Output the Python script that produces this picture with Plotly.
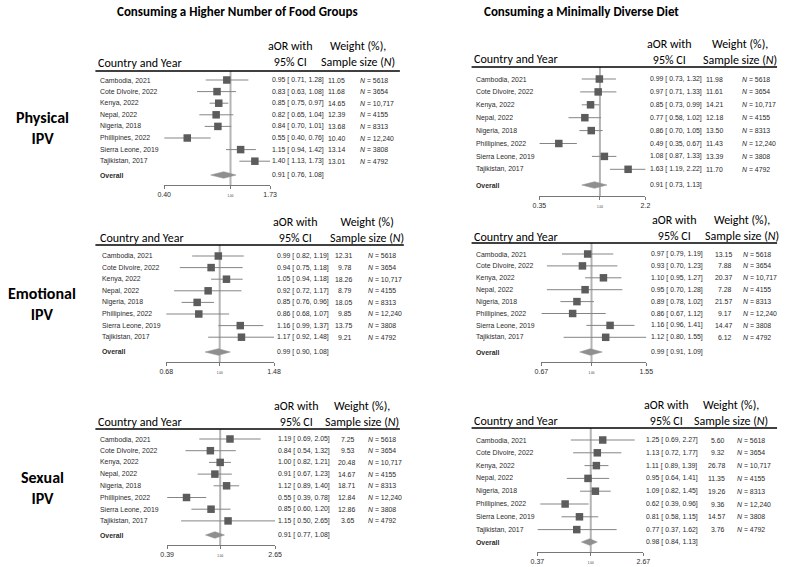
import math
import plotly.graph_objects as go

W, H = 787, 567

# ---------------- data ----------------
countries = ["Cambodia, 2021", "Cote DIvoire, 2022", "Kenya, 2022", "Nepal, 2022",
             "Nigeria, 2018", "Phillipines, 2022", "Sierra Leone, 2019", "Tajikistan, 2017"]
sample_n = [5618, 3654, 10717, 4155, 8313, 12240, 3808, 4792]

column_titles = ["Consuming a Higher Number of Food Groups", "Consuming a Minimally Diverse Diet"]
ipv_types = ["Physical<br>IPV", "Emotional<br>IPV", "Sexual<br>IPV"]
weight_headers = ["Weight (%),", "Weight (%),", "Weight (%)", "Weight (%),", "Weight (%),", "Weight (%),"]

# Physical IPV - food groups
phys_food_est = [0.95, 0.83, 0.85, 0.82, 0.84, 0.55, 1.15, 1.40]
phys_food_lo = [0.71, 0.63, 0.75, 0.65, 0.70, 0.40, 0.94, 1.13]
phys_food_hi = [1.28, 1.08, 0.97, 1.04, 1.01, 0.76, 1.42, 1.73]
phys_food_w = [11.05, 11.68, 14.65, 12.39, 13.68, 10.40, 13.14, 13.01]
phys_food_overall = [0.91, 0.76, 1.08]
phys_food_ticks = [0.40, 1.00, 1.73]
phys_food_ticklabels = ["0.40", "1.00", "1.73"]

# Physical IPV - minimally diverse diet
phys_mdd_est = [0.99, 0.97, 0.85, 0.77, 0.86, 0.49, 1.08, 1.63]
phys_mdd_lo = [0.73, 0.71, 0.73, 0.58, 0.70, 0.35, 0.87, 1.19]
phys_mdd_hi = [1.32, 1.33, 0.99, 1.02, 1.05, 0.67, 1.33, 2.22]
phys_mdd_w = [11.98, 11.61, 14.21, 12.18, 13.50, 11.43, 13.39, 11.70]
phys_mdd_overall = [0.91, 0.73, 1.13]
phys_mdd_ticks = [0.35, 1.00, 2.2]
phys_mdd_ticklabels = ["0.35", "1.00", "2.2"]

# Emotional IPV - food groups
emo_food_est = [0.99, 0.94, 1.05, 0.92, 0.85, 0.86, 1.16, 1.17]
emo_food_lo = [0.82, 0.75, 0.94, 0.72, 0.76, 0.68, 0.99, 0.92]
emo_food_hi = [1.19, 1.18, 1.18, 1.17, 0.96, 1.07, 1.37, 1.48]
emo_food_w = [12.31, 9.78, 18.26, 8.79, 18.05, 9.85, 13.75, 9.21]
emo_food_overall = [0.99, 0.90, 1.08]
emo_food_ticks = [0.68, 1.00, 1.48]
emo_food_ticklabels = ["0.68", "1.00", "1.48"]

# Emotional IPV - minimally diverse diet
emo_mdd_est = [0.97, 0.93, 1.10, 0.95, 0.89, 0.86, 1.16, 1.12]
emo_mdd_lo = [0.79, 0.70, 0.95, 0.70, 0.78, 0.67, 0.96, 0.80]
emo_mdd_hi = [1.19, 1.23, 1.27, 1.28, 1.02, 1.12, 1.41, 1.55]
emo_mdd_w = [13.15, 7.88, 20.37, 7.28, 21.57, 9.17, 14.47, 6.12]
emo_mdd_overall = [0.99, 0.91, 1.09]
emo_mdd_ticks = [0.67, 1.00, 1.55]
emo_mdd_ticklabels = ["0.67", "1.00", "1.55"]

# Sexual IPV - food groups
sex_food_est = [1.19, 0.84, 1.00, 0.91, 1.12, 0.55, 0.85, 1.15]
sex_food_lo = [0.69, 0.54, 0.82, 0.67, 0.89, 0.39, 0.60, 0.50]
sex_food_hi = [2.05, 1.32, 1.21, 1.23, 1.40, 0.78, 1.20, 2.65]
sex_food_w = [7.25, 9.53, 20.48, 14.67, 18.71, 12.84, 12.86, 3.65]
sex_food_overall = [0.91, 0.77, 1.08]
sex_food_ticks = [0.39, 1.00, 2.65]
sex_food_ticklabels = ["0.39", "1.00", "2.65"]

# Sexual IPV - minimally diverse diet
sex_mdd_est = [1.25, 1.13, 1.11, 0.95, 1.09, 0.62, 0.81, 0.77]
sex_mdd_lo = [0.69, 0.72, 0.89, 0.64, 0.82, 0.39, 0.58, 0.37]
sex_mdd_hi = [2.27, 1.77, 1.39, 1.41, 1.45, 0.96, 1.15, 1.62]
sex_mdd_w = [5.60, 9.32, 26.78, 11.35, 19.26, 9.36, 14.57, 3.76]
sex_mdd_overall = [0.98, 0.84, 1.13]
sex_mdd_ticks = [0.37, 1.00, 2.67]
sex_mdd_ticklabels = ["0.37", "1.00", "2.67"]

panel_data = [
    (phys_food_est, phys_food_lo, phys_food_hi, phys_food_w, phys_food_overall, phys_food_ticks, phys_food_ticklabels),
    (phys_mdd_est, phys_mdd_lo, phys_mdd_hi, phys_mdd_w, phys_mdd_overall, phys_mdd_ticks, phys_mdd_ticklabels),
    (emo_food_est, emo_food_lo, emo_food_hi, emo_food_w, emo_food_overall, emo_food_ticks, emo_food_ticklabels),
    (emo_mdd_est, emo_mdd_lo, emo_mdd_hi, emo_mdd_w, emo_mdd_overall, emo_mdd_ticks, emo_mdd_ticklabels),
    (sex_food_est, sex_food_lo, sex_food_hi, sex_food_w, sex_food_overall, sex_food_ticks, sex_food_ticklabels),
    (sex_mdd_est, sex_mdd_lo, sex_mdd_hi, sex_mdd_w, sex_mdd_overall, sex_mdd_ticks, sex_mdd_ticklabels),
]

# ---------------- layout (pixel geometry per panel) ----------------
panel_geom = [
    dict(line=71, cam=80, step=11.6, overall=175, axis=185, h1=47, h2=62, label=93, xlo=160, xhi=268,
         aor=268, wr=346, n=357, aor_head=289, w_head=357, hl0=90, hl1=400),
    dict(line=67, cam=79, step=12.9, overall=185, axis=196, h1=45, h2=58, label=475, xlo=542, xhi=650,
         aor=653, wr=731, n=746, aor_head=675, w_head=746, hl0=473, hl1=784),
    dict(line=245, cam=256, step=11.6, overall=352, axis=362, h1=223, h2=237, label=95, xlo=162, xhi=272,
         aor=273, wr=353, n=365, aor_head=294, w_head=367, hl0=90, hl1=404),
    dict(line=243, cam=254, step=11.9, overall=352, axis=362, h1=221, h2=236, label=475, xlo=544, xhi=651,
         aor=654, wr=740, n=747, aor_head=680, w_head=748, hl0=473, hl1=784),
    dict(line=429, cam=439, step=11.7, overall=535, axis=545, h1=407, h2=421, label=93, xlo=163, xhi=273,
         aor=274, wr=356, n=365, aor_head=295, w_head=361, hl0=90, hl1=400),
    dict(line=428, cam=440, step=12.8, overall=542, axis=552, h1=405, h2=420, label=475, xlo=540, xhi=648,
         aor=649, wr=733, n=741, aor_head=671, w_head=737, hl0=473, hl1=784),
]
title_pos = [(235, 11), (585, 11)]
ipv_pos = [(36, 128), (36, 304), (36, 488)]

BODY = "Liberation Sans, Arial, sans-serif"
HEAD = "Carlito, Lato, sans-serif"
TXT = "#2b2b2b"


def fmt_n(n):
    return f"{n:,}" if n >= 10000 else str(n)


fig = go.Figure()
annotations = []
shapes = []

for k, (data, g, whead) in enumerate(zip(panel_data, panel_geom, weight_headers), start=1):
    est, lo, hi, wts, overall, ticks, ticklabels = data
    sfx = "" if k == 1 else str(k)
    xa, ya = f"x{sfx}", f"y{sfx}"
    xname, yname = f"xaxis{sfx}", f"yaxis{sfx}"
    s = g["step"]

    def yv(px, g=g, s=s):
        return (g["cam"] - px) / s

    rows_y = [-i for i in range(len(countries))]
    ov_y = yv(g["overall"])

    xs, ys = [], []
    for l, h, y in zip(lo, hi, rows_y):
        xs += [l, h, None]
        ys += [y, y, None]
    fig.add_trace(go.Scatter(x=xs, y=ys, mode="lines", line=dict(color="#858585", width=1),
                             xaxis=xa, yaxis=ya, showlegend=False, hoverinfo="skip"))
    fig.add_trace(go.Scatter(x=est, y=rows_y, mode="markers",
                             marker=dict(symbol="square", size=7.5, color="#5c5c5c", line=dict(width=0)),
                             xaxis=xa, yaxis=ya, showlegend=False, cliponaxis=False))
    oe, ol, oh = overall
    dh = 3.3 / s
    fig.add_trace(go.Scatter(x=[ol, oe, oh, oe, ol], y=[ov_y, ov_y + dh, ov_y, ov_y - dh, ov_y],
                             mode="lines", fill="toself", fillcolor="#8f8f8f",
                             line=dict(color="#8f8f8f", width=0.5),
                             xaxis=xa, yaxis=ya, showlegend=False, hoverinfo="skip"))

    ticktext = [t if abs(v - 1.0) > 1e-9 else f"<span style='font-size:3px'>{t}</span>"
                for v, t in zip(ticks, ticklabels)]
    eps = 0.0003
    fig.layout[xname] = dict(type="log", domain=[g["xlo"] / W, g["xhi"] / W],
                             range=[math.log10(ticks[0]) - eps, math.log10(ticks[-1]) + eps],
                             anchor=ya, tickmode="array", tickvals=ticks, ticktext=ticktext,
                             ticks="outside", ticklen=3, tickcolor="#777", tickwidth=1,
                             showline=True, linecolor="#777", linewidth=1,
                             showgrid=False, zeroline=False, fixedrange=True,
                             tickfont=dict(size=7, family=BODY, color=TXT))
    fig.layout[yname] = dict(domain=[1 - g["axis"] / H, 1 - g["line"] / H],
                             range=[yv(g["axis"]), yv(g["line"])], anchor=xa, visible=False,
                             fixedrange=True)

    # reference line at 1
    shapes.append(dict(type="line", xref=xa, yref=f"{ya} domain", x0=1, x1=1, y0=0, y1=1,
                       line=dict(color="#b4b4b4", width=2), layer="below"))
    # header line
    shapes.append(dict(type="line", xref="paper", yref="paper", x0=g["hl0"] / W, x1=g["hl1"] / W,
                       y0=1 - g["line"] / H, y1=1 - g["line"] / H, line=dict(color="black", width=1.6)))

    bf = dict(size=6.9, family=BODY, color=TXT)
    for i, (c, e, l, h, w, n) in enumerate(zip(countries, est, lo, hi, wts, sample_n)):
        y = rows_y[i]
        annotations.append(dict(x=g["label"] / W, xref="paper", y=y, yref=ya, text=c,
                                xanchor="left", yanchor="middle", showarrow=False, font=bf))
        annotations.append(dict(x=g["aor"] / W, xref="paper", y=y, yref=ya,
                                text=f"{e:.2f} [ {l:.2f}, {h:.2f}]",
                                xanchor="left", yanchor="middle", showarrow=False, font=bf))
        annotations.append(dict(x=g["wr"] / W, xref="paper", y=y, yref=ya, text=f"{w:.2f}",
                                xanchor="right", yanchor="middle", showarrow=False, font=bf))
        annotations.append(dict(x=g["n"] / W, xref="paper", y=y, yref=ya,
                                text=f"<i>N</i> = {fmt_n(n)}",
                                xanchor="left", yanchor="middle", showarrow=False, font=bf))
    annotations.append(dict(x=g["label"] / W, xref="paper", y=ov_y, yref=ya, text="<b>Overall</b>",
                            xanchor="left", yanchor="middle", showarrow=False, font=bf))
    annotations.append(dict(x=g["aor"] / W, xref="paper", y=ov_y, yref=ya,
                            text=f"{oe:.2f} [ {ol:.2f}, {oh:.2f}]",
                            xanchor="left", yanchor="middle", showarrow=False, font=bf))

    hf = dict(size=12, family=HEAD, color="black")
    hmid = (g["h1"] + g["h2"]) / 2
    for text, xp, yp, anchor in [
        ("aOR with<br>95% CI", g["aor_head"], hmid, "center"),
        (f"{whead}<br>Sample size (<i>N</i>)", g["w_head"], hmid, "center"),
        ("Country and Year", g["label"] - 1, g["h2"] + 1, "left"),
    ]:
        annotations.append(dict(x=xp / W, xref="paper", y=1 - yp / H, yref="paper", text=text,
                                xanchor=anchor, yanchor="middle", align="center", showarrow=False,
                                font=hf, borderpad=0))

for t, (xp, yp) in zip(column_titles, title_pos):
    annotations.append(dict(x=xp / W, xref="paper", y=1 - yp / H, yref="paper", text=f"<b>{t}</b>",
                            xanchor="center", yanchor="middle", showarrow=False,
                            font=dict(size=13, family=HEAD, color="black")))
for t, (xp, yp) in zip(ipv_types, ipv_pos):
    annotations.append(dict(x=xp / W, xref="paper", y=1 - yp / H, yref="paper", text=f"<b>{t}</b>",
                            xanchor="center", yanchor="middle", showarrow=False, align="center",
                            font=dict(size=16, family=HEAD, color="black")))

fig.update_layout(width=W, height=H, margin=dict(l=0, r=0, t=0, b=0),
                  paper_bgcolor="white", plot_bgcolor="white",
                  annotations=annotations, shapes=shapes, showlegend=False)

fig.write_html("out.html", include_plotlyjs=True, full_html=True,
               config={"displayModeBar": False},
               post_script="document.body.style.margin='0';document.body.style.overflow='hidden';")
